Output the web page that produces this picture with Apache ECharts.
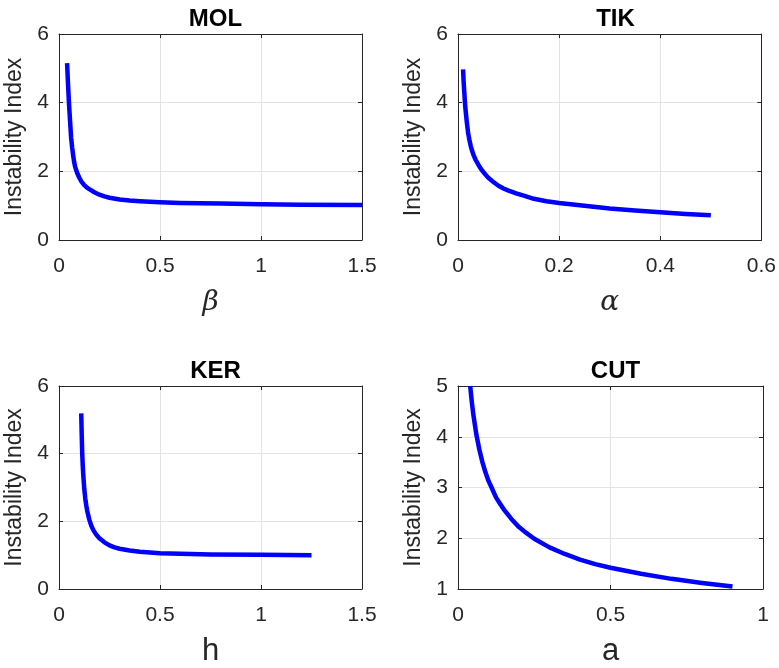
<!DOCTYPE html>
<html><head><meta charset="utf-8">
<script src="https://cdn.jsdelivr.net/npm/echarts@6/dist/echarts.min.js"></script>
<style>html,body{margin:0;padding:0;background:#fff}#c{width:779px;height:668px}</style>
</head><body><div id="c"></div>
<script>
// ---- data ----
const titles = ['MOL', 'TIK', 'KER', 'CUT'];
const xNames = ['β', 'α', 'h', 'a'];
const yName = 'Instability Index';

const molX = [0.04, 0.045, 0.05, 0.055, 0.06, 0.065, 0.07, 0.075, 0.08, 0.09, 0.1, 0.11, 0.125, 0.14, 0.15, 0.175, 0.2, 0.225, 0.25, 0.3, 0.35, 0.4, 0.5, 0.6, 0.7, 0.8, 1.0, 1.2, 1.5];
const molY = [5.15, 4.5, 3.92, 3.45, 2.98, 2.7, 2.47, 2.27, 2.13, 1.95, 1.82, 1.71, 1.6, 1.52, 1.48, 1.39, 1.32, 1.27, 1.23, 1.18, 1.15, 1.13, 1.10, 1.08, 1.07, 1.06, 1.04, 1.03, 1.02];

const tikX = [0.01, 0.011, 0.012, 0.0137, 0.015, 0.0175, 0.02, 0.0225, 0.025, 0.0275, 0.03, 0.035, 0.04, 0.045, 0.05, 0.06, 0.07, 0.08, 0.09, 0.1, 0.115, 0.13, 0.15, 0.175, 0.2, 0.25, 0.3, 0.35, 0.4, 0.45, 0.5];
const tikY = [4.97, 4.65, 4.4, 4.01, 3.78, 3.42, 3.12, 2.92, 2.75, 2.62, 2.5, 2.33, 2.2, 2.08, 1.98, 1.81, 1.69, 1.58, 1.5, 1.44, 1.36, 1.29, 1.2, 1.13, 1.08, 1.0, 0.92, 0.86, 0.81, 0.76, 0.72];

const kerX = [0.11, 0.1125, 0.115, 0.1175, 0.12, 0.125, 0.13, 0.135, 0.14, 0.15, 0.16, 0.17, 0.185, 0.2, 0.225, 0.25, 0.275, 0.3, 0.35, 0.4, 0.5, 0.6, 0.75, 1.0, 1.25];
const kerY = [5.19, 4.55, 4.0, 3.65, 3.38, 2.96, 2.68, 2.47, 2.3, 2.05, 1.87, 1.74, 1.6, 1.5, 1.38, 1.29, 1.23, 1.19, 1.14, 1.10, 1.06, 1.04, 1.02, 1.01, 1.0];

const cutX = [0.04, 0.045, 0.05, 0.055, 0.06, 0.07, 0.08, 0.09, 0.1, 0.11, 0.125, 0.14, 0.15, 0.175, 0.2, 0.225, 0.25, 0.3, 0.35, 0.4, 0.45, 0.5, 0.6, 0.7, 0.8, 0.9];
const cutY = [5.0, 4.7, 4.45, 4.25, 4.05, 3.75, 3.5, 3.3, 3.13, 3.0, 2.8, 2.66, 2.57, 2.38, 2.22, 2.1, 1.99, 1.82, 1.69, 1.58, 1.49, 1.42, 1.3, 1.2, 1.12, 1.05];

const xMax = [1.5, 0.6, 1.5, 1];
const xStep = [0.5, 0.2, 0.5, 0.5];
const yMin = [0, 0, 0, 1];
const yMax = [6, 6, 6, 5];
const yStep = [2, 2, 2, 1];

// ---- chart ----
const seriesX = [molX, tikX, kerX, cutX];
const seriesY = [molY, tikY, kerY, cutY];
const grids = [
  {left: 59, top: 34, width: 303, height: 206},
  {left: 458, top: 34, width: 305, height: 206},
  {left: 59, top: 386, width: 303, height: 206},
  {left: 458, top: 386, width: 305, height: 206}
];
const SANS = 'Liberation Sans, Arial, Helvetica, sans-serif';
const axisCol = '#262626';
const gridCol = '#e3e3e3';

const xAxes = [], yAxes = [], series = [], title = [];
for (let i = 0; i < 4; i++) {
  const g = grids[i];
  const greek = i < 2;
  title.push({
    text: titles[i], left: g.left + g.width / 2, top: g.top - 32, textAlign: 'center',
    textStyle: {fontFamily: SANS, fontWeight: 'bold', fontSize: 24, color: '#000'}
  });
  xAxes.push({
    type: 'value', gridIndex: i, min: 0, max: xMax[i], interval: xStep[i],
    name: xNames[i], nameLocation: 'middle', nameGap: greek ? 49 : 47,
    nameTextStyle: greek
      ? {fontFamily: 'DejaVu Serif, Liberation Serif, serif', fontStyle: 'italic', fontSize: 28, color: axisCol}
      : {fontFamily: SANS, fontSize: 31, color: axisCol},
    axisLine: {show: true, onZero: false, lineStyle: {color: axisCol, width: 1}},
    axisTick: {show: true, inside: true, length: 4, lineStyle: {color: axisCol}},
    axisLabel: {fontFamily: SANS, fontSize: 21, color: axisCol, margin: 16},
    splitLine: {show: true, lineStyle: {color: gridCol, width: 1}}
  });
  xAxes.push({
    type: 'value', gridIndex: i, position: 'top', min: 0, max: xMax[i], interval: xStep[i],
    axisLine: {show: true, onZero: false, lineStyle: {color: axisCol, width: 1}},
    axisTick: {show: true, inside: true, length: 4, lineStyle: {color: axisCol}},
    axisLabel: {show: false}, splitLine: {show: false}
  });
  yAxes.push({
    type: 'value', gridIndex: i, min: yMin[i], max: yMax[i], interval: yStep[i],
    name: yName, nameLocation: 'middle', nameGap: 33, nameRotate: 90,
    nameTextStyle: {fontFamily: SANS, fontSize: 23, color: axisCol},
    axisLine: {show: true, onZero: false, lineStyle: {color: axisCol, width: 1}},
    axisTick: {show: true, inside: true, length: 4, lineStyle: {color: axisCol}},
    axisLabel: {fontFamily: SANS, fontSize: 21, color: axisCol, margin: 10},
    splitLine: {show: true, lineStyle: {color: gridCol, width: 1}}
  });
  yAxes.push({
    type: 'value', gridIndex: i, position: 'right', min: yMin[i], max: yMax[i], interval: yStep[i],
    axisLine: {show: true, onZero: false, lineStyle: {color: axisCol, width: 1}},
    axisTick: {show: true, inside: true, length: 4, lineStyle: {color: axisCol}},
    axisLabel: {show: false}, splitLine: {show: false}
  });
  series.push({
    type: 'line', xAxisIndex: 2 * i, yAxisIndex: 2 * i,
    data: seriesX[i].map((x, k) => [x, seriesY[i][k]]),
    showSymbol: false, smooth: false,
    lineStyle: {color: '#0000ff', width: 4.5, join: 'round'}, animation: false, clip: true
  });
}

const chart = echarts.init(document.getElementById('c'), null, {renderer: 'canvas'});
chart.setOption({
  backgroundColor: '#fff', animation: false,
  title, grid: grids, xAxis: xAxes, yAxis: yAxes, series
});
</script>
</body></html>
